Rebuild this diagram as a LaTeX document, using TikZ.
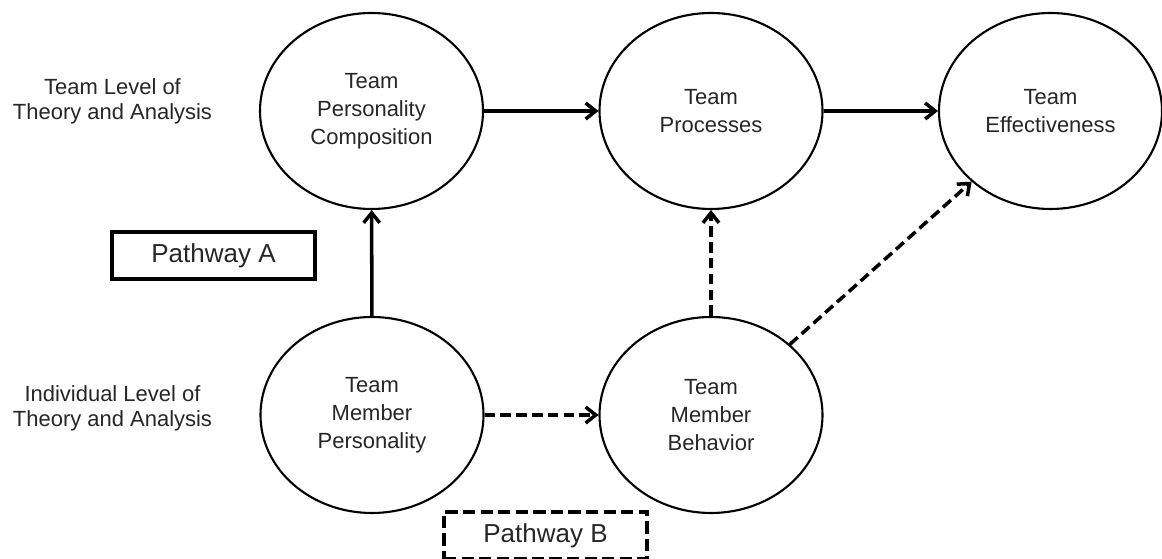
\documentclass[tikz,border=0pt]{standalone}
\usepackage{fontspec}
\setmainfont{Liberation Sans}
\usetikzlibrary{shapes.geometric,arrows.meta}

\begin{document}
\begin{tikzpicture}[
  oval/.style={draw, ellipse, line width=1.2pt, inner sep=0pt,
    minimum width=4.46cm, minimum height=3.92cm, align=center,
    font=\fontsize{12.5}{16}\selectfont, text=black!85},
  level/.style={align=center, font=\fontsize{12.5}{14.2}\selectfont, text=black!85},
  pathbox/.style={draw, line width=2pt, minimum width=4.06cm, minimum height=0.94cm,
    font=\fontsize{14.8}{17}\selectfont, text=black!85},
  arr/.style={line width=2pt, -{Straight Barb[length=2mm,width=3.2mm]}},
  dsh/.style={dash pattern=on 6pt off 3pt}
]
  \useasboundingbox (0,0) rectangle (23.24,11.18);

  \node[level] (teamlvl) at (2.25,9.16) {Team Level of\\Theory and Analysis};
  \node[level] (indlvl) at (2.25,3.02) {Individual Level of\\Theory and Analysis};

  \node[oval] (tpc) at (7.43,8.96) {Team\\Personality\\Composition};
  \node[oval] (tproc) at (14.22,8.96) {Team\\Processes};
  \node[oval] (teff) at (21.01,8.96) {Team\\Effectiveness};
  \node[oval] (tmp) at (7.44,2.88) {Team\\Member\\Personality};
  \node[oval] (tmb) at (14.22,2.88) {Team\\Member\\Behavior};

  \node[pathbox] (pa) at (4.27,6.07) {Pathway A};
  \node[pathbox, dash pattern=on 7pt off 3pt] (pb) at (10.91,0.47) {Pathway B};

  \draw[arr] (tpc) -- (tproc);
  \draw[arr] (tproc) -- (teff);
  \draw[arr] (tmp) -- (tpc);
  \draw[arr, dsh] (tmp) -- (tmb);
  \draw[arr, dsh] (tmb) -- (tproc);
  \draw[arr, dsh] (tmb) -- (teff);

\end{tikzpicture}
\end{document}
